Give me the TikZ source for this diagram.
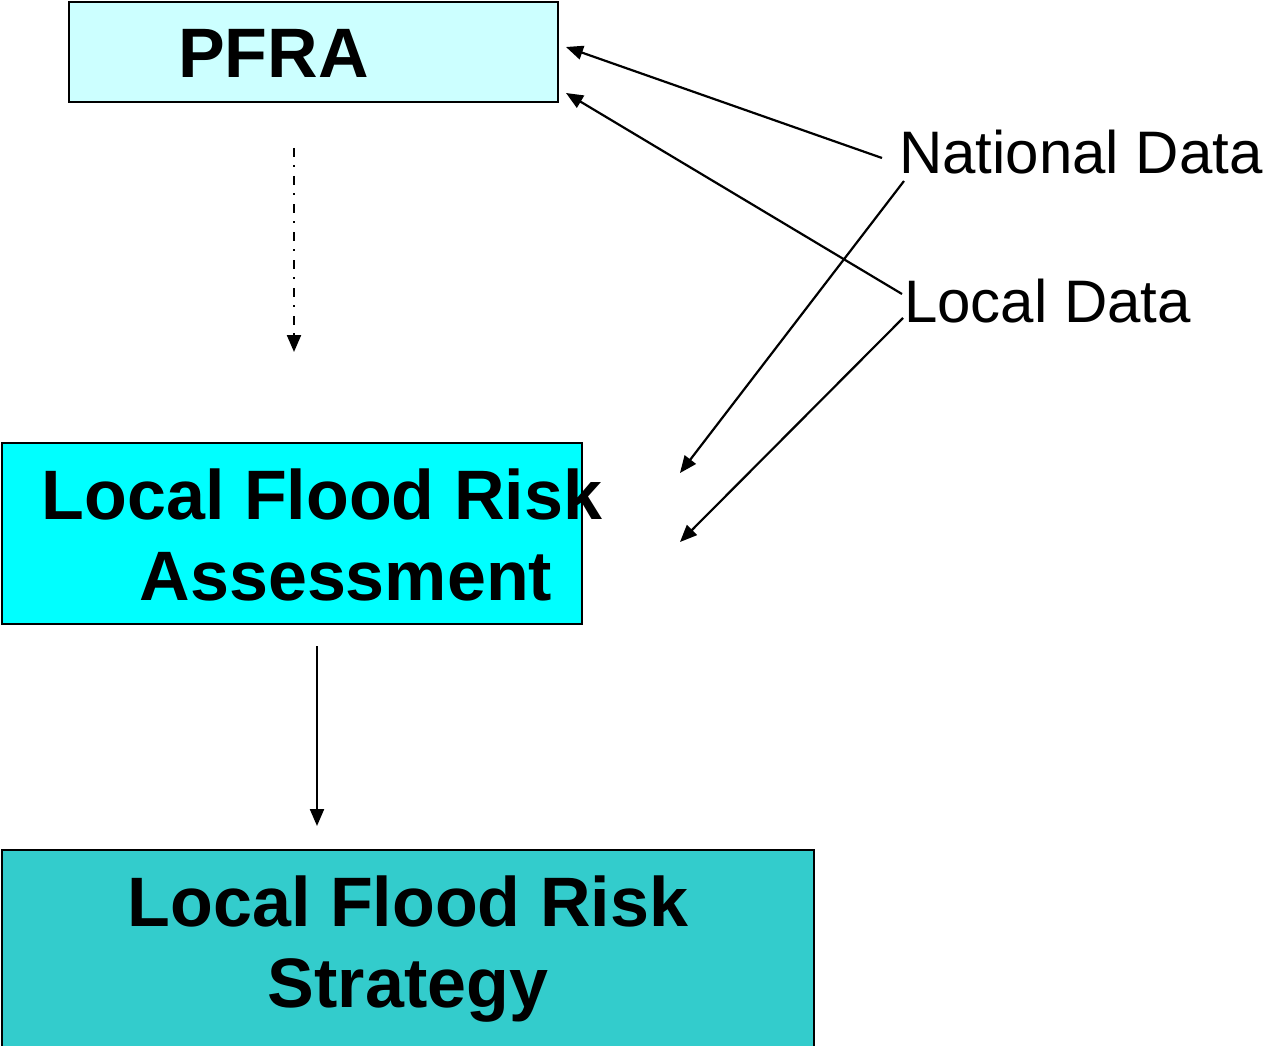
\documentclass[tikz,border=0pt]{standalone}
\usepackage{fontspec}
\setmainfont{Liberation Sans}
\usetikzlibrary{arrows.meta}
\definecolor{pfracol}{HTML}{CCFFFF}
\definecolor{lfracol}{HTML}{00FFFF}
\definecolor{lfrscol}{HTML}{33CCCC}
\tikzset{
  boxnode/.style={draw=black, line width=1.5pt, inner sep=0pt, outer sep=0pt},
  boldtxt/.style={inner sep=0pt, outer sep=0pt, font=\fontsize{70}{81}\selectfont\bfseries, align=center},
  regtxt/.style={inner sep=0pt, outer sep=0pt, font=\fontsize{60}{70}\selectfont},
  conn/.style={draw=black, line width=2.2pt, -{Triangle[length=17pt,width=14pt]}},
  dashdotconn/.style={conn, dash pattern=on 9pt off 8pt on 2pt off 9pt}
}
\begin{document}
\begin{tikzpicture}[x=1pt,y=-1pt]
\useasboundingbox (0,0) rectangle (1264,1046);
% boxes
\node[boxnode, fill=pfracol, minimum width=489pt, minimum height=100pt] (pfrabox) at (313.5,52) {};
\node[boxnode, fill=lfracol, minimum width=580pt, minimum height=181pt] (lfrabox) at (292,533.5) {};
\node[boxnode, fill=lfrscol, minimum width=812pt, minimum height=210pt] (lfrsbox) at (408,955) {};
% box texts
\node[boldtxt, anchor=base west] (pfratxt) at (178,78) {PFRA};
\node[boldtxt, anchor=base] (lfratxt) at (346,600) {Local Flood Risk\hspace*{48pt}\\Assessment};
\node[boldtxt, anchor=base] (lfrstxt) at (408,1007) {Local Flood Risk\\Strategy};
% data labels
\node[regtxt, anchor=base west] (natl) at (899,173) {National Data};
\node[regtxt, anchor=base west] (locd) at (904,322) {Local Data};
% connector end points
\coordinate (dd1) at (294,148);
\coordinate (dd2) at (294,352);
\coordinate (sd1) at (317,646);
\coordinate (sd2) at (317,826);
\coordinate (np1) at (882,158);
\coordinate (np2) at (566,47);
\coordinate (lp1) at (902,294);
\coordinate (lp2) at (566,93);
\coordinate (nl1) at (904,181);
\coordinate (nl2) at (680,473);
\coordinate (ll1) at (903,318);
\coordinate (ll2) at (680,542);
% connectors
\draw[dashdotconn] (dd1) -- (dd2);
\draw[conn] (sd1) -- (sd2);
\draw[conn] (np1) -- (np2);
\draw[conn] (lp1) -- (lp2);
\draw[conn] (nl1) -- (nl2);
\draw[conn] (ll1) -- (ll2);
\end{tikzpicture}
\end{document}
